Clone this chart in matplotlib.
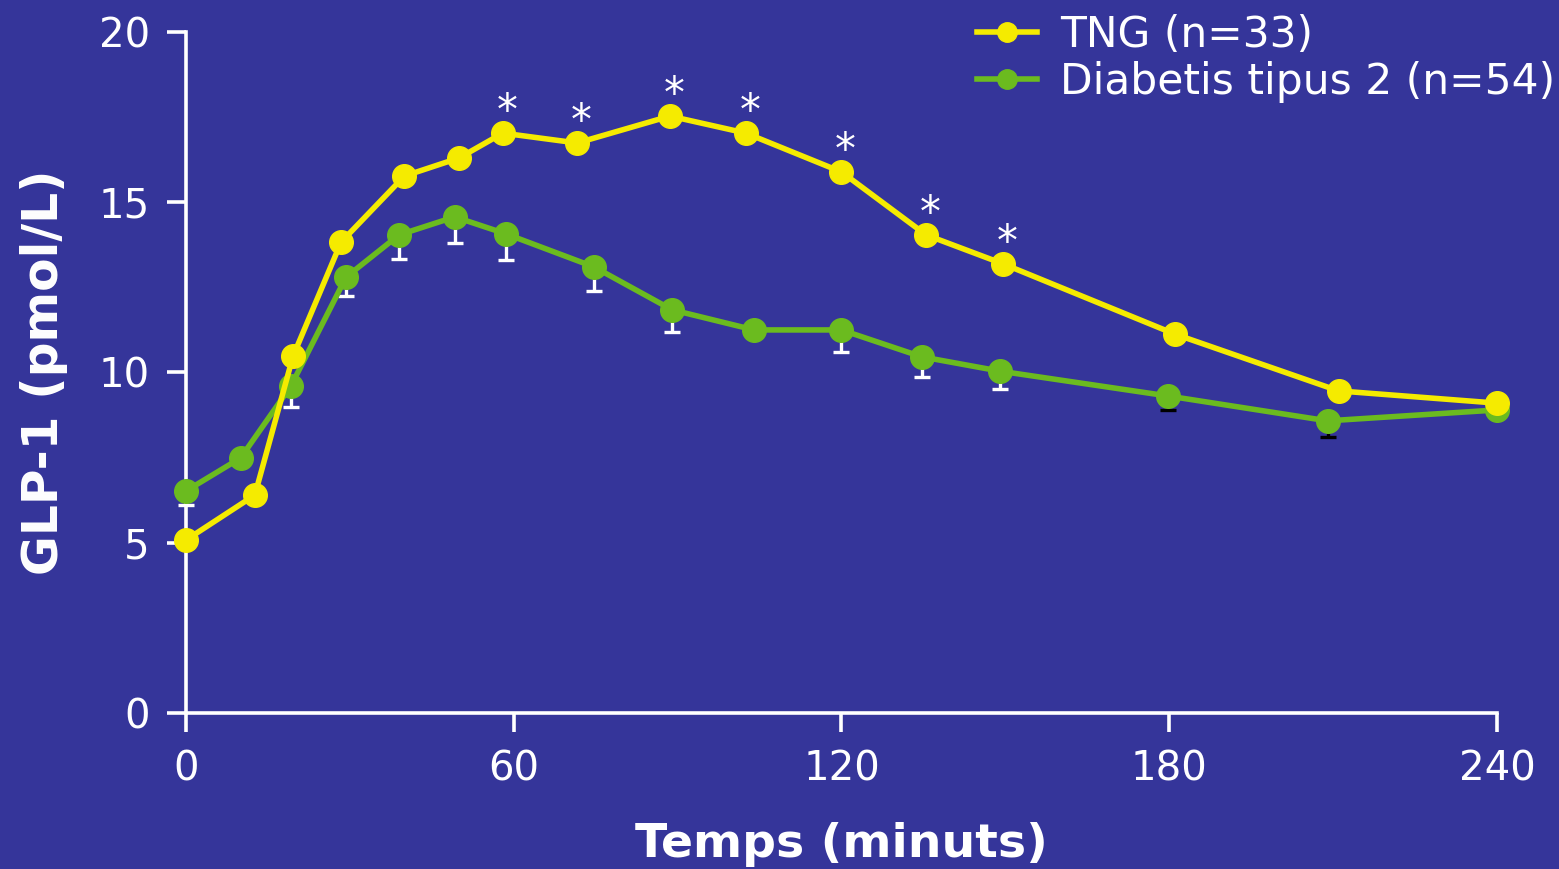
import matplotlib
matplotlib.use("Agg")
import matplotlib.pyplot as plt

# data
tng_x = [0, 12.6, 19.6, 28.4, 40, 50, 58, 71.6, 88.6, 102.5, 120, 135.5, 149.6, 181, 211, 240]
tng_y = [5.08, 6.40, 10.48, 13.83, 15.77, 16.30, 17.03, 16.74, 17.53, 17.03, 15.89, 14.04, 13.19, 11.13, 9.46, 9.10]
dm2_x = [0, 10, 19.2, 29.3, 39, 49.2, 58.6, 74.7, 89, 104, 120, 134.7, 149, 179.8, 209, 240]
dm2_y = [6.52, 7.49, 9.60, 12.80, 14.04, 14.57, 14.07, 13.10, 11.84, 11.25, 11.25, 10.46, 10.04, 9.31, 8.58, 8.90]
dm2_err = [0.41, 0, 0.61, 0.56, 0.70, 0.76, 0.76, 0.71, 0.65, 0, 0.65, 0.60, 0.53, 0.42, 0.48, 0]
star_idx = [6, 7, 8, 9, 10, 11, 12]
labels = ["TNG (n=33)", "Diabetis tipus 2 (n=54)"]

bg = "#35359a"
yellow = "#f5eb00"
green = "#6bbb1f"

plt.rcParams['font.family'] = ['DejaVu Sans']
fig = plt.figure(figsize=(15.59, 8.69), dpi=100, facecolor=bg)
ax = fig.add_axes([0.1193, 0.1795, 0.8409, 0.7837], facecolor=bg)

# error bars (downward only); last two drawn in black like the reference
for i in range(len(dm2_x)):
    if dm2_err[i] == 0:
        continue
    c = "black" if dm2_x[i] > 170 else "white"
    ax.errorbar(dm2_x[i], dm2_y[i], yerr=[[dm2_err[i]], [0]], fmt="none",
                ecolor=c, elinewidth=2.4, capsize=5.5, capthick=2.4, zorder=2, clip_on=False)

ax.plot(tng_x, tng_y, color=yellow, lw=4, marker="o", ms=17, label=labels[0], zorder=4, clip_on=False)
ax.plot(dm2_x, dm2_y, color=green, lw=4, marker="o", ms=17, label=labels[1], zorder=3, clip_on=False)

for i in star_idx:
    ax.annotate("*", (tng_x[i], tng_y[i]), xytext=(3, 0), textcoords="offset points",
                ha="center", va="bottom", color="white", fontsize=30)

ax.set_xlim(0, 240)
ax.set_ylim(0, 20)
ax.set_xticks([0, 60, 120, 180, 240])
ax.set_yticks([0, 5, 10, 15, 20])
for s in ["top", "right"]:
    ax.spines[s].set_visible(False)
for s in ["left", "bottom"]:
    ax.spines[s].set_color("white")
    ax.spines[s].set_linewidth(2.6)
ax.tick_params(colors="white", labelsize=29, width=2.6, length=14, direction="out")
ax.tick_params(axis="x", pad=12)
ax.tick_params(axis="y", pad=12)

ax.set_xlabel("Temps (minuts)", color="white", fontsize=34, fontweight="bold", labelpad=24)
ax.set_ylabel("GLP-1 (pmol/L)", color="white", fontsize=35, fontweight="bold", labelpad=22)

leg = fig.legend(loc="upper right", bbox_to_anchor=(1.022, 1.028), frameon=False,
                 fontsize=30.5, handlelength=1.4, handletextpad=0.55, labelspacing=0.12,
                 labelcolor="white")
for h in leg.legend_handles:
    h.set_markersize(14)

fig.savefig("out.png", dpi=100, facecolor=bg)
